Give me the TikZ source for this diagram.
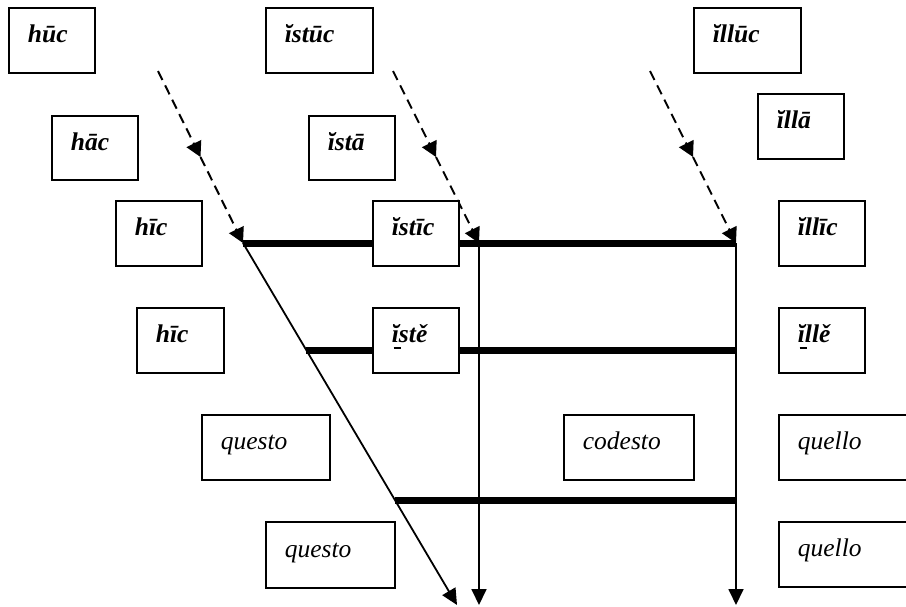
\documentclass[tikz,border=0pt]{standalone}
\usepackage{fontspec}
\setmainfont{Liberation Serif}
\usetikzlibrary{arrows.meta}
\newcommand\ubari{\makebox[0pt][l]{\hspace{1.6pt}\rule[-6pt]{7pt}{2.2pt}}ĭ}
\tikzset{
  wordbox/.style={draw, line width=1.8pt, fill=white, anchor=north west,
    inner xsep=19pt, inner ysep=0pt, minimum height=65pt,
    text height=18pt, text depth=13pt, align=left,
    font=\fontsize{25}{30}\selectfont},
  lat/.style={wordbox, font=\fontsize{25.5}{30}\selectfont\bfseries\itshape},
  ita/.style={wordbox, font=\fontsize{25.5}{30}\selectfont\itshape},
  thickline/.style={line width=7pt, line cap=butt},
  thinarrow/.style={line width=1.8pt, -{Triangle[length=16pt,width=15pt]}},
  dasharrow/.style={line width=2pt, dash pattern=on 10pt off 6pt, -{Triangle[length=15pt,width=16pt]}}
}
\begin{document}
\begin{tikzpicture}[x=1pt,y=-1pt]
\useasboundingbox (0,0) rectangle (906,606);
% coordinates
\coordinate (a1) at (158,71);  \coordinate (m1) at (200.5,157); \coordinate (j1) at (243,243);
\coordinate (a2) at (393,71);  \coordinate (m2) at (436,157);   \coordinate (j2) at (479,243);
\coordinate (a3) at (650,71);  \coordinate (m3) at (693,157);   \coordinate (j3) at (736,243);
\coordinate (e1) at (457,605); \coordinate (e2) at (479,605);   \coordinate (e3) at (736,605);
\coordinate (p2) at (306.3,350); \coordinate (q2) at (736,350);
\coordinate (p3) at (394.9,500); \coordinate (q3) at (736,500);
% thick lines
\draw[thickline] (j1) -- (j3);
\draw[thickline] (p2) -- (q2);
\draw[thickline] (p3) -- (q3);
% thin arrows
\draw[thinarrow] (j1) -- (e1);
\draw[thinarrow] (j2) -- (e2);
\draw[thinarrow] (j3) -- (e3);
% dashed arrows
\draw[dasharrow] (a1) -- (m1);
\draw[dasharrow] (m1) -- (j1);
\draw[dasharrow] (a2) -- (m2);
\draw[dasharrow] (m2) -- (j2);
\draw[dasharrow] (a3) -- (m3);
\draw[dasharrow] (m3) -- (j3);
% boxes
\node[lat, text width=48pt] (huc) at (8,7) {hūc};
\node[lat, text width=69pt] (istuc) at (265,7) {ĭstūc};
\node[lat, text width=69pt] (illuc) at (693,7) {ĭllūc};
\node[lat, text width=48pt, minimum height=64pt] (hac) at (51,115) {hāc};
\node[lat, text width=48pt, minimum height=64pt] (ista) at (308,115) {ĭstā};
\node[lat, text width=48pt] (illa) at (757,93) {ĭllā};
\node[lat, text width=48pt] (hic) at (115,200) {hīc};
\node[lat, text width=48pt] (istic) at (372,200) {ĭstīc};
\node[lat, text width=48pt] (illic) at (778,200) {ĭllīc};
\node[lat, text width=49pt] (hicb) at (136,307) {hīc};
\node[lat, text width=48pt] (iste) at (372,307) {\ubari stě};
\node[lat, text width=48pt] (ille) at (778,307) {\ubari llě};
\node[ita, text width=90pt] (questo) at (201,414) {questo};
\node[ita, text width=92pt] (codesto) at (563,414) {codesto};
\node[ita, text width=110pt] (quello) at (778,414) {quello};
\node[ita, text width=91pt, minimum height=66pt] (questob) at (265,521) {questo};
\node[ita, text width=110pt] (quellob) at (778,521) {quello};
\end{tikzpicture}
\end{document}
